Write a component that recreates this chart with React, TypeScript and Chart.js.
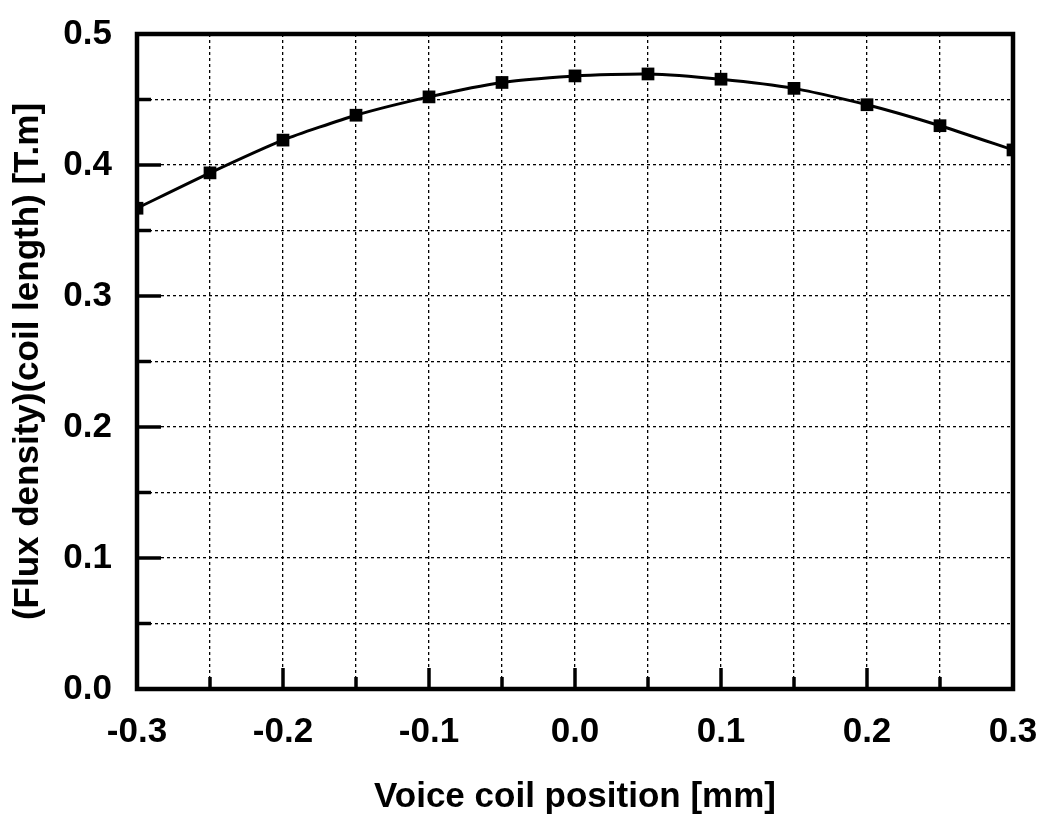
import React, { useEffect, useRef } from 'react';
import { Chart, registerables } from 'chart.js';

Chart.register(...registerables);

// Voice coil position [mm]
const positions = [-0.3, -0.25, -0.2, -0.15, -0.1, -0.05, 0.0, 0.05, 0.1, 0.15, 0.2, 0.25, 0.3];
// (Flux density)(coil length) [T.m]
const fluxLength = [0.367, 0.394, 0.419, 0.438, 0.452, 0.463, 0.468, 0.4695, 0.4655, 0.4585, 0.446, 0.43, 0.4115];

const xTickLabels = ['-0.3', '-0.2', '-0.1', '0.0', '0.1', '0.2', '0.3'];
const yTickLabels = ['0.0', '0.1', '0.2', '0.3', '0.4', '0.5'];
const xTitle = 'Voice coil position [mm]';
const yTitle = '(Flux density)(coil length) [T.m]';

const FONT = "'Liberation Sans', Arial, Helvetica, sans-serif";

function majorIndex(v: number, start: number): number {
  const k = (v - start) / 0.1;
  const r = Math.round(k);
  return Math.abs(k - r) < 1e-6 ? r : -1;
}

const framePlugin = {
  id: 'frame',
  afterDatasetsDraw(chart: any) {
    const { ctx, chartArea: a, scales } = chart;
    ctx.save();
    ctx.strokeStyle = '#000';
    ctx.lineWidth = 3.5;
    ctx.setLineDash([]);
    scales.x.ticks.forEach((t: any) => {
      const px = scales.x.getPixelForValue(t.value);
      const len = majorIndex(t.value, -0.3) >= 0 ? 21 : 12;
      ctx.beginPath();
      ctx.moveTo(px, a.bottom);
      ctx.lineTo(px, a.bottom - len);
      ctx.stroke();
    });
    scales.y.ticks.forEach((t: any) => {
      const py = scales.y.getPixelForValue(t.value);
      const len = majorIndex(t.value, 0) >= 0 ? 24 : 14;
      ctx.beginPath();
      ctx.moveTo(a.left, py);
      ctx.lineTo(a.left + len, py);
      ctx.stroke();
    });
    ctx.lineWidth = 4.5;
    ctx.strokeRect(a.left, a.top, a.right - a.left, a.bottom - a.top);
    ctx.restore();
  },
};

export default function App() {
  const canvasRef = useRef<HTMLCanvasElement | null>(null);

  useEffect(() => {
    if (!canvasRef.current) return;
    const chart = new Chart(canvasRef.current, {
      type: 'line',
      data: {
        datasets: [
          {
            data: positions.map((x, i) => ({ x, y: fluxLength[i] })),
            borderColor: '#000',
            backgroundColor: '#000',
            borderWidth: 3,
            tension: 0.2,
            pointStyle: 'rect',
            pointRadius: 9,
            pointBorderWidth: 0,
            pointBackgroundColor: '#000',
            clip: 0,
          } as any,
        ],
      },
      options: {
        animation: false,
        responsive: true,
        maintainAspectRatio: false,
        layout: { padding: { top: 34, right: 25, left: 0, bottom: 0 } },
        plugins: { legend: { display: false }, tooltip: { enabled: false } },
        scales: {
          x: {
            type: 'linear',
            min: -0.3,
            max: 0.3,
            afterFit: (s: any) => {
              s.height = 126;
              s.paddingLeft = 0;
              s.paddingRight = 0;
            },
            border: { display: false, dash: [3, 3] },
            grid: { color: '#000', lineWidth: 1.3, drawTicks: false },
            ticks: {
              stepSize: 0.05,
              autoSkip: false,
              maxRotation: 0,
              padding: 22,
              color: '#000',
              font: { family: FONT, size: 35, weight: 'bold' },
              callback: (v: any) => {
                const i = majorIndex(Number(v), -0.3);
                return i >= 0 ? xTickLabels[i] ?? '' : '';
              },
            },
            title: {
              display: true,
              text: xTitle,
              color: '#000',
              padding: { top: 0, bottom: 0 },
              font: { family: FONT, size: 35, weight: 'bold', lineHeight: 1 },
            },
          },
          y: {
            type: 'linear',
            min: 0,
            max: 0.5,
            afterFit: (s: any) => {
              s.width = 137;
              s.paddingTop = 0;
              s.paddingBottom = 0;
            },
            border: { display: false, dash: [3, 3] },
            grid: { color: '#000', lineWidth: 1.3, drawTicks: false },
            ticks: {
              stepSize: 0.05,
              autoSkip: false,
              padding: 25,
              color: '#000',
              font: { family: FONT, size: 35, weight: 'bold' },
              callback: (v: any) => {
                const i = majorIndex(Number(v), 0);
                return i >= 0 ? yTickLabels[i] ?? '' : '';
              },
            },
            title: {
              display: true,
              text: yTitle,
              color: '#000',
              padding: { top: 11, bottom: 0 },
              font: { family: FONT, size: 35, weight: 'bold', lineHeight: 1 },
            },
          },
        },
      } as any,
      plugins: [framePlugin],
    });
    return () => chart.destroy();
  }, []);

  return (
    <div style={{ position: 'absolute', left: 0, top: 0, width: 1038, height: 815, background: '#fff' }}>
      <canvas ref={canvasRef} />
    </div>
  );
}
